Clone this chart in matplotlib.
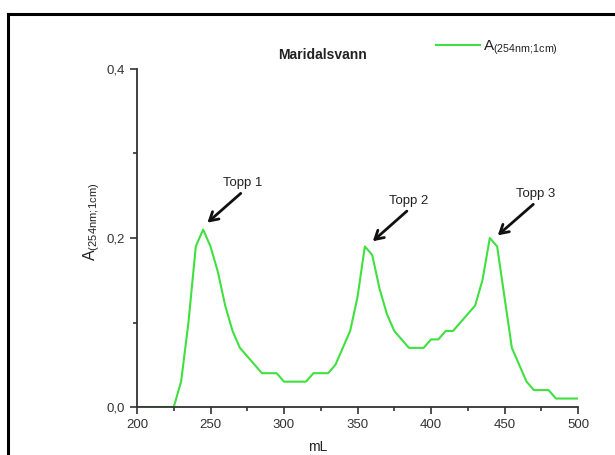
import matplotlib
matplotlib.use("Agg")
import matplotlib.pyplot as plt
from matplotlib.lines import Line2D
from matplotlib.ticker import MultipleLocator, FuncFormatter

plt.rcParams['font.family'] = ['Liberation Sans', 'DejaVu Sans']

volume_ml = [200, 205, 210, 215, 220, 225, 230, 235, 240, 245, 250, 255, 260, 265, 270,
             275, 280, 285, 290, 295, 300, 305, 310, 315, 320, 325, 330, 335, 340, 345,
             350, 355, 360, 365, 370, 375, 380, 385, 390, 395, 400, 405, 410, 415, 420,
             425, 430, 435, 440, 445, 450, 455, 460, 465, 470, 475, 480, 485, 490, 495, 500]
absorbance = [0.0, 0.0, 0.0, 0.0, 0.0, 0.0, 0.03, 0.10, 0.19, 0.21, 0.19, 0.16, 0.12, 0.09, 0.07,
              0.06, 0.05, 0.04, 0.04, 0.04, 0.03, 0.03, 0.03, 0.03, 0.04, 0.04, 0.04, 0.05, 0.07, 0.09,
              0.13, 0.19, 0.18, 0.14, 0.11, 0.09, 0.08, 0.07, 0.07, 0.07, 0.08, 0.08, 0.09, 0.09, 0.10,
              0.11, 0.12, 0.15, 0.20, 0.19, 0.13, 0.07, 0.05, 0.03, 0.02, 0.02, 0.02, 0.01, 0.01, 0.01, 0.01]

peak_labels = ["Topp 1", "Topp 2", "Topp 3"]
peak_x = [246.5, 359, 444]
peak_y = [0.216, 0.194, 0.201]
label_x = [272, 385, 471]
label_y = [0.255, 0.234, 0.242]

series_label = r'$\mathregular{A_{(254nm;\!1cm)}}$'

W, H = 615, 455
fig = plt.figure(figsize=(W / 100, H / 100), dpi=100)
ax = fig.add_axes([137 / W, 1 - 407 / H, (578 - 137) / W, (407 - 69) / H])

green = '#3fe03f'
ax.plot(volume_ml, absorbance, color=green, lw=1.5, label=series_label)

ax.set_xlim(200, 500)
ax.set_ylim(0, 0.4)
ax.xaxis.set_major_locator(MultipleLocator(50))
ax.xaxis.set_minor_locator(MultipleLocator(25))
ax.yaxis.set_major_locator(MultipleLocator(0.2))
ax.yaxis.set_minor_locator(MultipleLocator(0.1))
ax.yaxis.set_major_formatter(FuncFormatter(lambda v, p: f"{v:.1f}".replace('.', ',')))
ax.tick_params(which='major', direction='out', length=5, width=1.2, labelsize=9.5,
               labelcolor='#333333', color='#333333')
ax.tick_params(which='minor', direction='out', length=3, width=1.2, color='#333333')
for s in ['top', 'right']:
    ax.spines[s].set_visible(False)
for s in ['left', 'bottom']:
    ax.spines[s].set_linewidth(1.3)
    ax.spines[s].set_color('#333333')

for lab, px, py, lx, ly in zip(peak_labels, peak_x, peak_y, label_x, label_y):
    ax.annotate('', xy=(px, py), xytext=(lx, ly),
                arrowprops=dict(arrowstyle='->,head_length=0.6,head_width=0.35', lw=2, color='#111111'))
    ax.text(lx, ly + 0.003, lab, ha='center', va='bottom', fontsize=9.5, color='#222222')

fig.text(323 / W, 1 - 55 / H, 'Maridalsvann', ha='center', va='center', fontsize=10,
         fontweight='bold', color='#222222')
fig.text(92 / W, 1 - 222 / H, series_label, rotation=90, ha='center',
         va='center', fontsize=11.5, color='#222222')
fig.text(318 / W, 1 - 447 / H, 'mL', ha='center', va='center', fontsize=10, color='#222222')

leg = ax.legend(loc='center left', bbox_to_anchor=(436 / W, 1 - 48 / H),
                bbox_transform=fig.transFigure, frameon=False, fontsize=11,
                handlelength=2.9, handletextpad=0.2, borderpad=0, borderaxespad=0)
for t in leg.get_texts():
    t.set_color('#222222')

# outer frame (top and left edges visible)
fig.add_artist(Line2D([8 / W, 8 / W], [0, 1 - 14 / H], transform=fig.transFigure,
                      color='black', lw=2.2))
fig.add_artist(Line2D([8 / W, 1], [1 - 14 / H, 1 - 14 / H], transform=fig.transFigure,
                      color='black', lw=2.2))

fig.savefig('out.png', dpi=100)
